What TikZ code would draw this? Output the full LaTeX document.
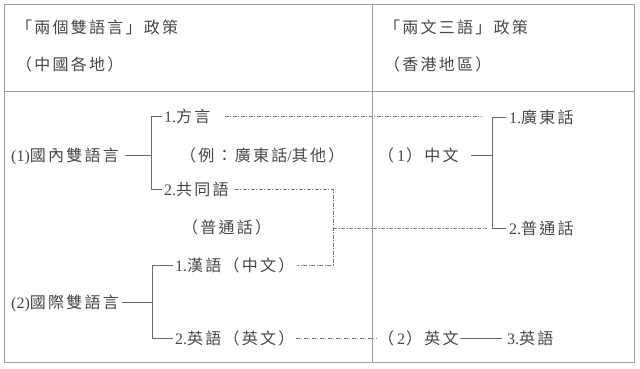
\documentclass[tikz,border=0pt]{standalone}
\usepackage{fontspec}
\setmainfont{Liberation Serif}
\newfontfamily\cjk[LetterSpace=14]{Noto Sans CJK TC}
\newfontfamily\lat{Liberation Serif}
\usetikzlibrary{positioning}
\definecolor{framegray}{RGB}{160, 160, 160}
\definecolor{linkgray}{RGB}{120, 120, 120}
\definecolor{inkgray}{RGB}{70, 70, 70}

\begin{document}
\begin{tikzpicture}[x=1pt, y=-1pt,
  frame/.style={draw=framegray, line width=0.9pt},
  item/.style={anchor=west, inner sep=0pt, text=inkgray,
               font=\fontsize{16}{18}\cjk, text height=14pt, text depth=2pt},
  brk/.style={draw=inkgray!80, line width=0.7pt},
  link/.style={draw=linkgray, line width=0.6pt,
               dash pattern=on 4pt off 1.5pt on 1pt off 1.5pt}
]
  \useasboundingbox (0,0) rectangle (640,368);
  \draw[frame] (4,4) rectangle (634,362);
  \draw[frame] (4,91) -- (634,91);
  \draw[frame] (372,4) -- (372,362);

  % headers
  \node[item] (hleft)  at (16,27)  {「兩個雙語言」政策};
  \node[item] (hleftb) at (16,64)  {（中國各地）};
  \node[item] (hright) at (384,27) {「兩文三語」政策};
  \node[item] (hrightb) at (384,64) {（香港地區）};

  % left column
  \node[item] (dom)  at (11,155)  {{\lat (1)}國內雙語言};
  \node[item] (fang) at (164,116) {{\lat 1.}方言};
  \node[item] (eg)   at (180,155) {（例：廣東話{\lat /}其他）};
  \node[item] (gong) at (164,189) {{\lat 2.}共同語};
  \node[item] (puth) at (182,227) {（普通話）};
  \node[item] (intl) at (11,302)  {{\lat (2)}國際雙語言};
  \node[item] (han)  at (175,265) {{\lat 1.}漢語（中文）};
  \node[item] (ying) at (175,338) {{\lat 2.}英語（英文）};

  % right column
  \node[item] (zhong) at (378,155) {（\hspace{3pt}{\lat 1}\hspace{1pt}）中文};
  \node[item] (engl)  at (378,338) {（\hspace{3pt}{\lat 2}\hspace{1pt}）英文};
  \node[item] (yue)   at (509,117) {{\lat 1.}廣東話};
  \node[item] (pu)    at (509,228) {{\lat 2.}普通話};
  \node[item] (eng)   at (507,338) {{\lat 3.}英語};

  \coordinate (spa) at (151,0);
  \coordinate (spb) at (152,0);
  \coordinate (spc) at (492,0);
  \coordinate (jx)  at (333,0);
  \coordinate (ex)  at (482,0);

  % brackets
  \draw[brk] ([xshift=6pt]dom.east) -- (dom.east -| spa);
  \draw[brk] ([xshift=-2pt]fang.west) -- (fang.west -| spa)
    -- (gong.west -| spa) -- ([xshift=-2pt]gong.west);
  \draw[brk] ([xshift=3pt]intl.east) -- (intl.east -| spb);
  \draw[brk] ([xshift=-2pt]han.west) -- (han.west -| spb)
    -- (ying.west -| spb) -- ([xshift=-2pt]ying.west);
  \draw[brk] ([xshift=12pt]zhong.east) -- (zhong.east -| spc);
  \draw[brk] ([xshift=-3pt]yue.west) -- (yue.west -| spc)
    -- (pu.west -| spc) -- ([xshift=-3pt]pu.west);
  \draw[brk] ([xshift=1pt]engl.east) -- ([xshift=-5pt]eng.west);

  % links
  \draw[link] ([xshift=14pt]fang.east) -- (fang.east -| ex);
  \draw[link] ([xshift=6pt]gong.east) -- (gong.east -| jx)
    -- (han.east -| jx) -- ([xshift=2pt]han.east);
  \draw[link] (pu.west -| jx) -- ([xshift=-5pt]pu.west -| spc);
  \draw[link] ([xshift=1pt]ying.east) -- ([xshift=-1pt]engl.west);
\end{tikzpicture}
\end{document}
